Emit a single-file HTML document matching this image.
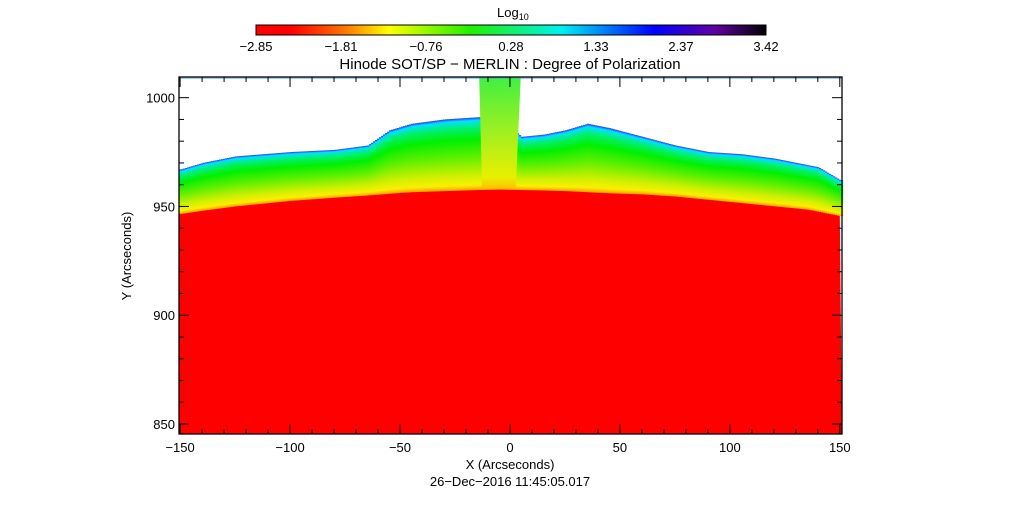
<!DOCTYPE html>
<html><head><meta charset="utf-8"><style>
body{margin:0;background:#fff;}
svg text{font-family:"Liberation Sans",sans-serif;fill:#000;}
</style></head><body>
<svg id="chart" width="1020" height="512" xmlns="http://www.w3.org/2000/svg">
<defs>
<linearGradient id="cbar" x1="0" x2="1" y1="0" y2="0">
<stop offset="0" stop-color="#ff0000"/><stop offset="0.07" stop-color="#ff0000"/>
<stop offset="0.17" stop-color="#ff7000"/><stop offset="0.26" stop-color="#ffff00"/>
<stop offset="0.42" stop-color="#20f000"/><stop offset="0.6" stop-color="#00f0f0"/>
<stop offset="0.78" stop-color="#0000ff"/><stop offset="0.9" stop-color="#6000a0"/>
<stop offset="1" stop-color="#000000"/></linearGradient>
<linearGradient id="band" x1="0" x2="0" y1="0" y2="1">
<stop offset="0" stop-color="#3030ff"/><stop offset="0.04" stop-color="#00e0ff"/>
<stop offset="0.14" stop-color="#00f070"/><stop offset="0.3" stop-color="#00f000"/>
<stop offset="0.55" stop-color="#60f000"/><stop offset="0.8" stop-color="#d0f000"/>
<stop offset="0.93" stop-color="#f8f000"/><stop offset="1" stop-color="#ffa000"/></linearGradient>
<linearGradient id="jet" x1="0" x2="0" y1="0" y2="1">
<stop offset="0" stop-color="#40f040"/><stop offset="0.5" stop-color="#a0f020"/>
<stop offset="0.9" stop-color="#e8f000"/><stop offset="1" stop-color="#ffc000"/></linearGradient>
</defs>
<g id="plot"></g>
<g id="axes"></g>
</svg>
<script>
const xs=[-150,-140,-125,-100,-80,-65,-55,-45,-30,-15,-5,5,15,25,35,45,60,75,90,105,120,135,140,150];
const limbY=[947,948.5,950.5,953,954.5,955.5,956.3,957,957.5,958,958.2,958,957.8,957.5,957,956.5,956,955,953.5,952,950.5,949,948,946];
const outerY=[967,970,973,975,976,978,985,988,990,991,991,982,983,985,988,986,982,978,975,974,972,969,968,962];
const jetRange=[-14,4];
const xTicks=[-150,-100,-50,0,50,100,150];
const yTicks=[850,900,950,1000];
const cbarLabels=["-2.85","-1.81","-0.76","0.28","1.33","2.37","3.42"];
const L=179,R=842,T=77,B=434,X0=-150.5,X1=151,Y0=845.4,Y1=1009.5;
const sx=v=>L+(v-X0)/(X1-X0)*(R-L);
const sy=v=>B-(v-Y0)/(Y1-Y0)*(B-T);
const NS="http://www.w3.org/2000/svg";
function mk(t,a,p){const e=document.createElementNS(NS,t);for(const k in a)e.setAttribute(k,a[k]);p.appendChild(e);return e;}
function interp(arr,x){for(let i=0;i<xs.length-1;i++){if(x>=xs[i]&&x<=xs[i+1]){const f=(x-xs[i])/(xs[i+1]-xs[i]);return arr[i]+f*(arr[i+1]-arr[i]);}}return x<xs[0]?arr[0]:arr[arr.length-1];}
const plot=document.getElementById('plot'),axes=document.getElementById('axes');
let pts=[];for(let i=0;i<xs.length;i++)pts.push(sx(xs[i])+','+sy(limbY[i]));
pts.push(R+','+B,L+','+B);pts.unshift(L+','+sy(limbY[0]));pts.push(L+','+sy(limbY[0]));
const disk=mk('polygon',{points:pts.join(' '),fill:'#ff0000'},plot);


for(let px=L;px<R;px+=2){const v=X0+(px-L)/(R-L)*(X1-X0);const yl=sy(interp(limbY,v)),yo=sy(interp(outerY,v));
const r=mk('rect',{x:px,y:yo,width:2.2,height:yl-yo+1,fill:'url(#band)'},plot);

}
const jx0=sx(jetRange[0]),jx1=sx(jetRange[1]),jb=sy(interp(limbY,(jetRange[0]+jetRange[1])/2));
const jet=mk('polygon',{points:`${jx0},${T} ${jx1+2},${T} ${jx1-3},${jb} ${jx0+3},${jb}`,fill:'url(#jet)'},plot);


const strip=mk('rect',{x:L,y:T,width:R-L,height:2,fill:'#40a0ff',opacity:0.5},plot);


const fr=mk('rect',{x:L,y:T,width:R-L,height:B-T,fill:'none',stroke:'#000','stroke-width':1.3},axes);


for(let v=-150;v<=150;v+=10){const maj=v%50===0;const x=sx(v);
mk('line',{x1:x,x2:x,y1:B,y2:B-(maj?10:5),stroke:'#000'},axes);mk('line',{x1:x,x2:x,y1:T,y2:T+(maj?10:5),stroke:'#000'},axes);}
xTicks.forEach(v=>{const t=mk('text',{x:sx(v),y:B+18,'font-size':13,'text-anchor':'middle'},axes);t.textContent=(v<0?'\u2212'+(-v):v);

});
for(let v=850;v<=1000;v+=10){const maj=v%50===0;const y=sy(v);
mk('line',{x1:L,x2:L+(maj?10:5),y1:y,y2:y,stroke:'#000'},axes);mk('line',{x1:R,x2:R-(maj?10:5),y1:y,y2:y,stroke:'#000'},axes);}
yTicks.forEach(v=>{const t=mk('text',{x:L-4,y:sy(v)+5,'font-size':13,'text-anchor':'end'},axes);t.textContent=v;

});
function txt(s,a,name){const t=mk('text',a,axes);t.textContent=s;return t;}
txt('X (Arcseconds)',{x:510,y:469,'font-size':13,'text-anchor':'middle'},'x-axis-title');
txt('26\u2212Dec\u22122016 11:45:05.017',{x:510,y:486,'font-size':13,'text-anchor':'middle'},'timestamp');
txt('Y (Arcseconds)',{x:131,y:256,'font-size':13,'text-anchor':'middle',transform:'rotate(-90 131 256)'},'y-axis-title');
txt('Hinode SOT/SP \u2212 MERLIN : Degree of Polarization',{x:510,y:69,'font-size':15,'text-anchor':'middle'},'chart-title');
const cb=mk('rect',{x:256,y:25,width:510,height:10,fill:'url(#cbar)',stroke:'#000','stroke-width':1},axes);


const lg=txt('Log',{x:497,y:17,'font-size':13},'colorbar-title');
const sub=mk('tspan',{'font-size':9,dy:3},lg);sub.textContent='10';
cbarLabels.forEach((s,i)=>{const x=256+i*85;
txt(s.replace('-','\u2212'),{x:x,y:51,'font-size':13,'text-anchor':'middle'},'colorbar-tick-label');});
</script>
</body></html>
